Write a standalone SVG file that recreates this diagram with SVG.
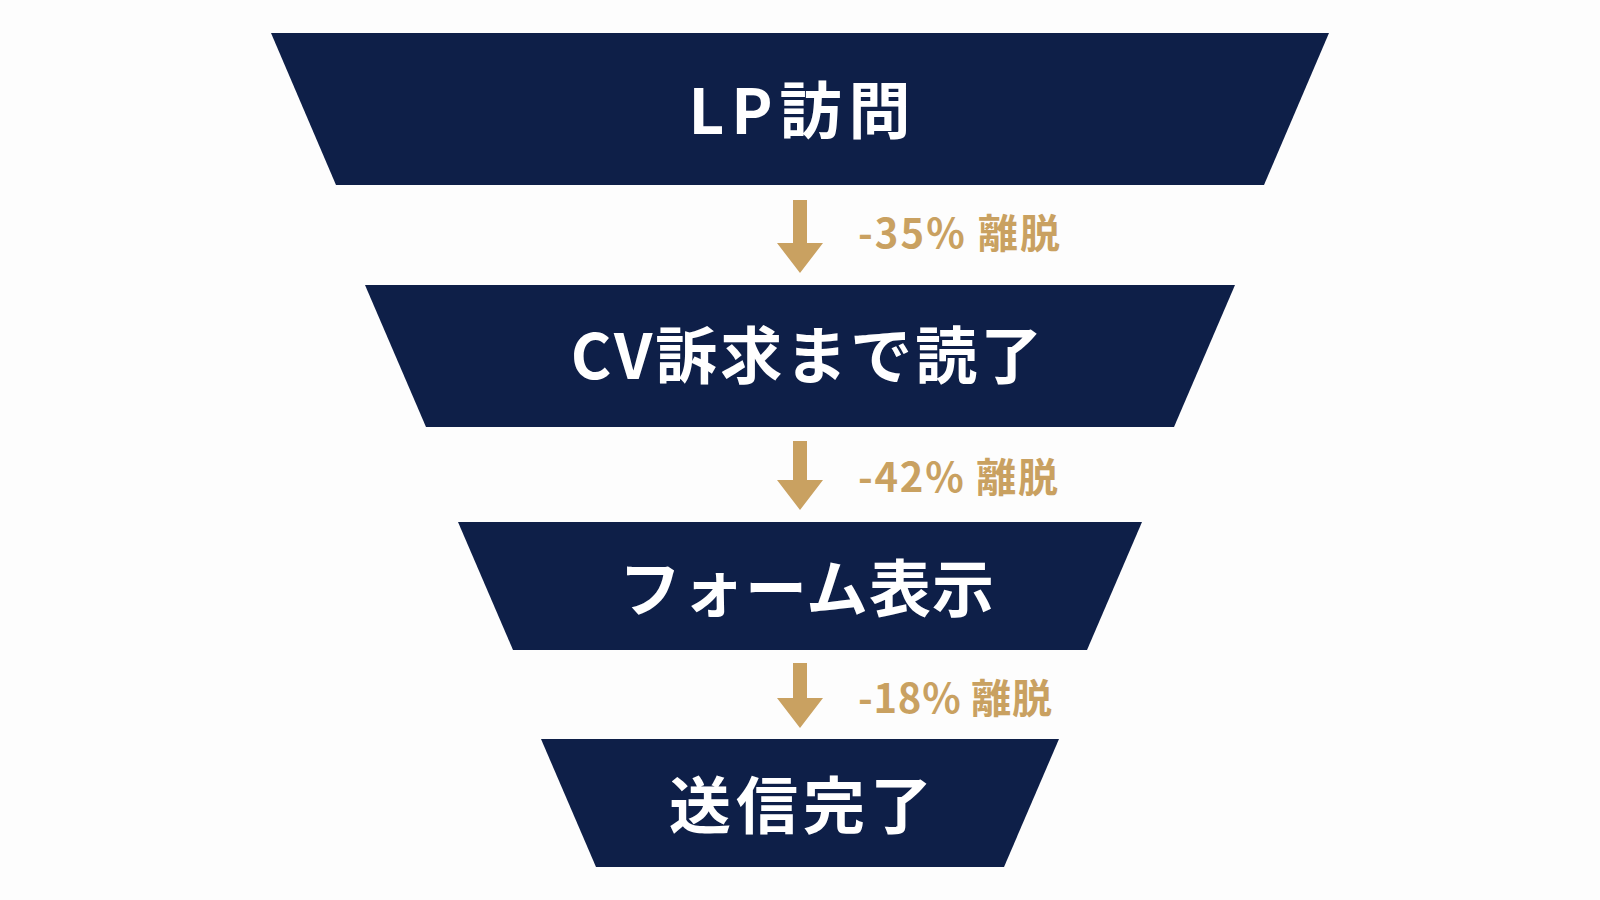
<svg xmlns="http://www.w3.org/2000/svg" width="1600" height="900" viewBox="0 0 1600 900">
  <style>
    .stage { fill: #0E1F48; }
    .stage-label { fill: #FFFFFF; font-family: "Noto Sans CJK JP", "Noto Sans", sans-serif; font-weight: 700; font-size: 62px; text-anchor: middle; dominant-baseline: central; letter-spacing: 2px; }
    .arrow { fill: #C9A161; }
    .drop { fill: #C9A161; font-family: "Noto Sans CJK JP", "Noto Sans", sans-serif; font-weight: 700; font-size: 40px; }
  </style>
  <rect width="1600" height="900" fill="#FDFDFD"/>

  <g id="node-lp">
    <polygon class="stage" points="271,33 1329,33 1264,185 336,185"/>
    <text class="stage-label" x="803" y="107" style="letter-spacing:7px">LP訪問</text>
  </g>
  <g id="node-cv">
    <polygon class="stage" points="365,285 1235,285 1174,427 426,427"/>
    <text class="stage-label" x="808" y="352" style="letter-spacing:3px">CV訴求まで読了</text>
  </g>
  <g id="node-form">
    <polygon class="stage" points="458,522 1142,522 1087,650 513,650"/>
    <text class="stage-label" x="807" y="585" style="letter-spacing:1px">フォーム表示</text>
  </g>
  <g id="node-done">
    <polygon class="stage" points="541,739 1059,739 1004,867 596,867"/>
    <text class="stage-label" x="803" y="802" style="letter-spacing:5px">送信完了</text>
  </g>

  <g id="connectors">
    <g id="edge-1">
      <polygon class="arrow" points="793,200 807,200 807,243 823,243 800,273 777,243 793,243"/>
      <text class="drop" x="858" y="248" textLength="202" lengthAdjust="spacing">-35% 離脱</text>
    </g>
    <g id="edge-2">
      <polygon class="arrow" points="793,441 807,441 807,480 823,480 800,510 777,480 793,480"/>
      <text class="drop" x="858" y="492" textLength="200" lengthAdjust="spacing">-42% 離脱</text>
    </g>
    <g id="edge-3">
      <polygon class="arrow" points="793,663 807,663 807,698 823,698 800,728 777,698 793,698"/>
      <text class="drop" x="858" y="713" textLength="194" lengthAdjust="spacing">-18% 離脱</text>
    </g>
  </g>
</svg>
